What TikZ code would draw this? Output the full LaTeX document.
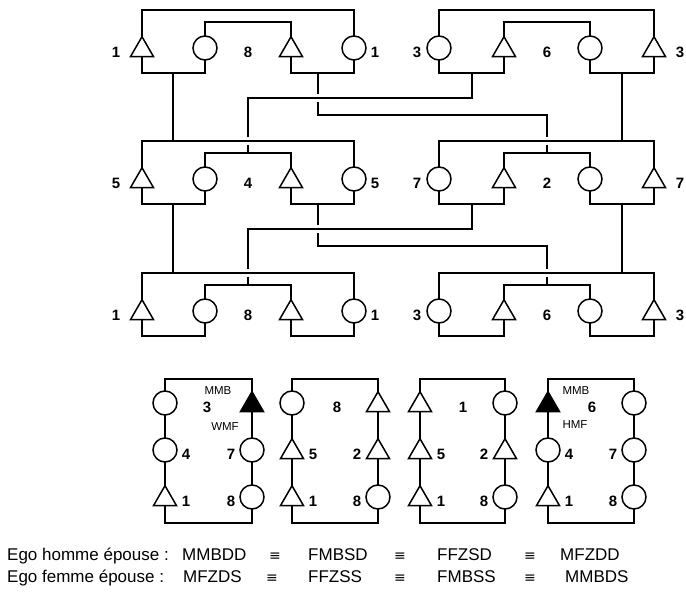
\documentclass[tikz,border=0pt]{standalone}
\usepackage{fontspec}
\setmainfont{Liberation Sans}
\newfontfamily\symbfont{DejaVu Sans}
\usetikzlibrary{shapes.geometric}

\begin{document}
\begin{tikzpicture}[
    x=1pt, y=-1pt,
    lien/.style={line width=1.5pt},
    homme/.style={regular polygon, regular polygon sides=3, draw, line width=1.5pt,
        minimum size=26.6pt, inner sep=0pt, outer sep=0pt, yshift=-2pt},
    ego/.style={homme, fill=black},
    femme/.style={circle, draw, line width=1.5pt, minimum size=24pt,
        inner sep=0pt, outer sep=0pt},
    chiffre/.style={font=\fontsize{15}{18}\selectfont\bfseries, inner sep=0pt},
    sigle/.style={font=\fontsize{11.5}{14}\selectfont, inner sep=0pt},
    legende/.style={font=\fontsize{17}{20}\selectfont, inner sep=0pt, anchor=base west},
    egal/.style={font=\fontsize{14}{16}\selectfont\symbfont, inner sep=0pt, anchor=base}
]
\useasboundingbox (0,0) rectangle (686,596);

% --- Colonnes du schéma du haut ---
\foreach \n/\x in {a/142, b/205, c/291, d/354, e/439, f/504, g/590, h/654}
    \coordinate (x\n) at (\x,0);
\coordinate (xab) at (173,0);
\coordinate (xcd) at (318,0);
\coordinate (xef) at (472,0);
\coordinate (xgh) at (622,0);
\coordinate (xA) at (248,0);
\coordinate (xB) at (547,0);

% --- Trois générations : niveaux et personnes ---
\foreach \r/\c in {1/48, 2/179, 3/311} {
    \coordinate (y\r) at (0,\c);
    \coordinate (ext\r) at (0,\c-38);
    \coordinate (int\r) at (0,\c-26);
    \coordinate (bas\r) at (0,\c+25);
    \coordinate (hA\r) at (0,\c+50);
    \coordinate (hB\r) at (0,\c+67);
    % interruptions aux croisements
    \coordinate (tro\r) at (0,\c-42);
    \coordinate (trb\r) at (0,\c-34);
    \coordinate (hAm\r) at (0,\c+46);
    \coordinate (hAp\r) at (0,\c+54);
    \foreach \n/\f in {a/homme, b/femme, c/homme, d/femme,
                       e/femme, f/homme, g/femme, h/homme}
        \node[\f] (p\r\n) at (x\n |- y\r) {};
}

% --- Germains (en haut) et conjoints (en bas) ---
\foreach \r in {1,2,3} {
    \foreach \u/\v/\w/\z in {a/b/c/d, e/f/g/h} {
        \draw[lien] (p\r\u.north) -- (p\r\u.north |- ext\r) -- (p\r\z.north |- ext\r) -- (p\r\z.north);
        \draw[lien] (p\r\v.north) -- (p\r\v.north |- int\r) -- (p\r\w.north |- int\r) -- (p\r\w.north);
        \draw[lien] (p\r\u.south) -- (p\r\u.south |- bas\r) -- (p\r\v.south |- bas\r) -- (p\r\v.south);
        \draw[lien] (p\r\w.south) -- (p\r\w.south |- bas\r) -- (p\r\z.south |- bas\r) -- (p\r\z.south);
    }
}

% --- Filiation d'une génération à l'autre ---
\foreach \r/\s in {1/2, 2/3} {
    \draw[lien] (xab |- bas\r) -- (xab |- ext\s);
    \draw[lien] (xgh |- bas\r) -- (xgh |- ext\s);
    % croisements
    \draw[lien] (xef |- bas\r) -- (xef |- hA\r) -- (xA |- hA\r) -- (xA |- tro\s);
    \draw[lien] (xA |- trb\s) -- (xA |- int\s);
    \draw[lien] (xcd |- bas\r) -- (xcd |- hAm\r);
    \draw[lien] (xcd |- hAp\r) -- (xcd |- hB\r) -- (xB |- hB\r) -- (xB |- tro\s);
    \draw[lien] (xB |- trb\s) -- (xB |- int\s);
}

% --- Numéros des lignées ---
\foreach \r/\c/\u/\v/\w/\s/\t/\q in {1/48/1/8/1/3/6/3, 2/179/5/4/5/7/2/7, 3/311/1/8/1/3/6/3} {
    \node[chiffre] (na\r) at (116,\c+4) {\u};
    \node[chiffre] (nbc\r) at (248,\c+4) {\v};
    \node[chiffre] (nd\r) at (375,\c+4) {\w};
    \node[chiffre] (ne\r) at (417,\c+4) {\s};
    \node[chiffre] (nfg\r) at (547,\c+4) {\t};
    \node[chiffre] (nh\r) at (680,\c+4) {\q};
}

% --- Les quatre cycles ---
\coordinate (lhaut) at (0,379);
\coordinate (lbas) at (0,523);
\foreach \bx/\L/\R/\ga/\gb/\gc/\da/\db/\dc/\lg/\lr in {
        1/165/252/femme/femme/homme/ego/femme/femme/4/7,
        2/292/378/femme/homme/homme/homme/homme/femme/5/2,
        3/420/505/homme/homme/homme/femme/homme/femme/5/2,
        4/548/634/ego/femme/homme/femme/femme/femme/4/7} {
    \node[\ga] (G\bx a) at (\L,403) {};
    \node[\gb] (G\bx b) at (\L,450) {};
    \node[\gc] (G\bx c) at (\L,497) {};
    \node[\da] (D\bx a) at (\R,403) {};
    \node[\db] (D\bx b) at (\R,450) {};
    \node[\dc] (D\bx c) at (\R,497) {};
    \draw[lien] (G\bx a.north) -- (G\bx a.north |- lhaut) -- (D\bx a.north |- lhaut) -- (D\bx a.north);
    \draw[lien] (G\bx a.south) -- (G\bx b.north);
    \draw[lien] (G\bx b.south) -- (G\bx c.north);
    \draw[lien] (D\bx a.south) -- (D\bx b.north);
    \draw[lien] (D\bx b.south) -- (D\bx c.north);
    \draw[lien] (G\bx c.south) -- (G\bx c.south |- lbas) -- (D\bx c.south |- lbas) -- (D\bx c.south);
    \node[chiffre] (LG\bx b) at (\L+21,454) {\lg};
    \node[chiffre] (LG\bx c) at (\L+21,501) {1};
    \node[chiffre] (LD\bx b) at (\R-21,454) {\lr};
    \node[chiffre] (LD\bx c) at (\R-21,501) {8};
}
\node[sigle] (mmb1) at (218,391) {MMB};
\node[chiffre] (c1) at (207,407) {3};
\node[sigle] (wmf) at (225,427) {WMF};
\node[chiffre] (c2) at (337,407) {8};
\node[chiffre] (c3) at (463,407) {1};
\node[sigle] (mmb4) at (576,391) {MMB};
\node[chiffre] (c4) at (592,407) {6};
\node[sigle] (hmf) at (575,425) {HMF};

% --- Équivalences ---
\node[legende] (ego1) at (7,560) {Ego homme épouse :};
\node[legende] (t11) at (182,560) {MMBDD};
\node[egal] (e11) at (275,560) {≡};
\node[legende] (t12) at (308,560) {FMBSD};
\node[egal] (e12) at (400,560) {≡};
\node[legende] (t13) at (437,560) {FFZSD};
\node[egal] (e13) at (530,560) {≡};
\node[legende] (t14) at (560,560) {MFZDD};

\node[legende] (ego2) at (7,582) {Ego femme épouse :};
\node[legende] (t21) at (183,582) {MFZDS};
\node[egal] (e21) at (272,582) {≡};
\node[legende] (t22) at (308,582) {FFZSS};
\node[egal] (e22) at (400,582) {≡};
\node[legende] (t23) at (437,582) {FMBSS};
\node[egal] (e23) at (530,582) {≡};
\node[legende] (t24) at (565,582) {MMBDS};

\end{tikzpicture}
\end{document}
